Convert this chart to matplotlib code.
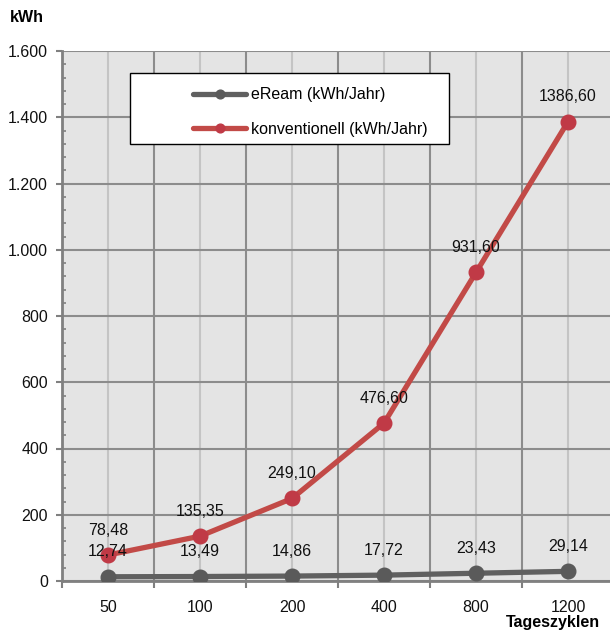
import matplotlib
matplotlib.use("Agg")
import matplotlib.pyplot as plt
from matplotlib.patches import Rectangle
from matplotlib.ticker import MultipleLocator, FuncFormatter, FixedLocator, NullFormatter

plt.rcParams['font.family'] = ['Liberation Sans', 'DejaVu Sans']

# Data
cycles = ["50", "100", "200", "400", "800", "1200"]
eream = [12.74, 13.49, 14.86, 17.72, 23.43, 29.14]
konventionell = [78.48, 135.35, 249.10, 476.60, 931.60, 1386.60]
series_names = ["eReam (kWh/Jahr)", "konventionell (kWh/Jahr)"]

W, H = 610, 630
fig = plt.figure(figsize=(W / 100, H / 100), dpi=100)
ax = fig.add_axes([62 / W, 49 / H, 552 / W, 530 / H])
ax.set_facecolor("#e4e4e4")

x = list(range(len(cycles)))
grey = "#606060"
red = "#c24a47"

l1, = ax.plot(x, eream, color=grey, lw=3.8, marker="o", ms=10.5,
              markerfacecolor="#5a5a5a", markeredgecolor="#5a5a5a", zorder=4, solid_capstyle="round")
l2, = ax.plot(x, konventionell, color=red, lw=3.8, marker="o", ms=10.5,
              markerfacecolor="#c03a46", markeredgecolor="#c03a46", zorder=4, solid_capstyle="round")

def de(v):
    return f"{v:.2f}".replace(".", ",")

for xi, v in zip(x, eream):
    ax.annotate(de(v), (xi, v), xytext=(0, 18), textcoords="offset points",
                ha="center", va="center", fontsize=11.5, color="#111111", zorder=5)
for xi, v in zip(x, konventionell):
    ax.annotate(de(v), (xi, v), xytext=(0, 18), textcoords="offset points",
                ha="center", va="center", fontsize=11.5, color="#111111", zorder=5)

# Axes ranges
ax.set_xlim(-0.5, len(cycles) - 0.5)
ax.set_ylim(0, 1600)

# x axis: boundaries as major ticks (dark grid), categories as minor ticks (labels, light grid)
ax.xaxis.set_major_locator(FixedLocator([i - 0.5 for i in range(len(cycles) + 1)]))
ax.xaxis.set_major_formatter(NullFormatter())
ax.xaxis.set_minor_locator(FixedLocator(x))
ax.set_xticklabels(cycles, minor=True)
ax.tick_params(axis="x", which="major", direction="out", length=5, width=1.5, color="#808080")
ax.tick_params(axis="x", which="minor", length=0, pad=14, labelsize=11.5, labelcolor="#111111")

# y axis
ax.yaxis.set_major_locator(MultipleLocator(200))
ax.yaxis.set_minor_locator(MultipleLocator(40))
ax.yaxis.set_major_formatter(FuncFormatter(lambda v, p: f"{int(v):,}".replace(",", ".")))
ax.tick_params(axis="y", which="major", direction="out", length=4, width=1.5, color="#808080",
               pad=6, labelsize=11.5, labelcolor="#111111")
ax.tick_params(axis="y", which="minor", direction="in", length=3, width=1.2, color="#808080")

ax.grid(True, which="major", color="#8c8c8c", lw=1.5, zorder=1)
ax.grid(True, which="minor", axis="x", color="#c4c4c4", lw=1.5, zorder=1)
ax.set_axisbelow(True)

for s in ["top", "right"]:
    ax.spines[s].set_visible(False)
for s in ["left", "bottom"]:
    ax.spines[s].set_color("#808080")
    ax.spines[s].set_linewidth(2)

# Legend box
x0, x1 = (130 - 62) / 552, (449 - 62) / 552
y0, y1 = (581 - 144) / 530, (581 - 73) / 530
ax.add_patch(Rectangle((x0, y0), x1 - x0, y1 - y0, transform=ax.transAxes,
                       facecolor="white", edgecolor="black", lw=1, zorder=6))
leg = ax.legend([l1, l2], series_names, loc="center left",
                bbox_to_anchor=((193 - 62 - 14) / 552, (y0 + y1) / 2 - 0.0065),
                frameon=False, fontsize=11.5, handlelength=3.3, handletextpad=0.3,
                labelspacing=1.2, numpoints=1, markerscale=0.6)
leg.set_zorder(7)

fig.text(10 / W, 1 - 18 / H, "kWh", fontsize=11.5, fontweight="bold", va="center", ha="left")
fig.text(600 / W, 1 - 622 / H, "Tageszyklen", fontsize=11.5, fontweight="bold", va="center", ha="right")

fig.savefig("out.png", dpi=100)
